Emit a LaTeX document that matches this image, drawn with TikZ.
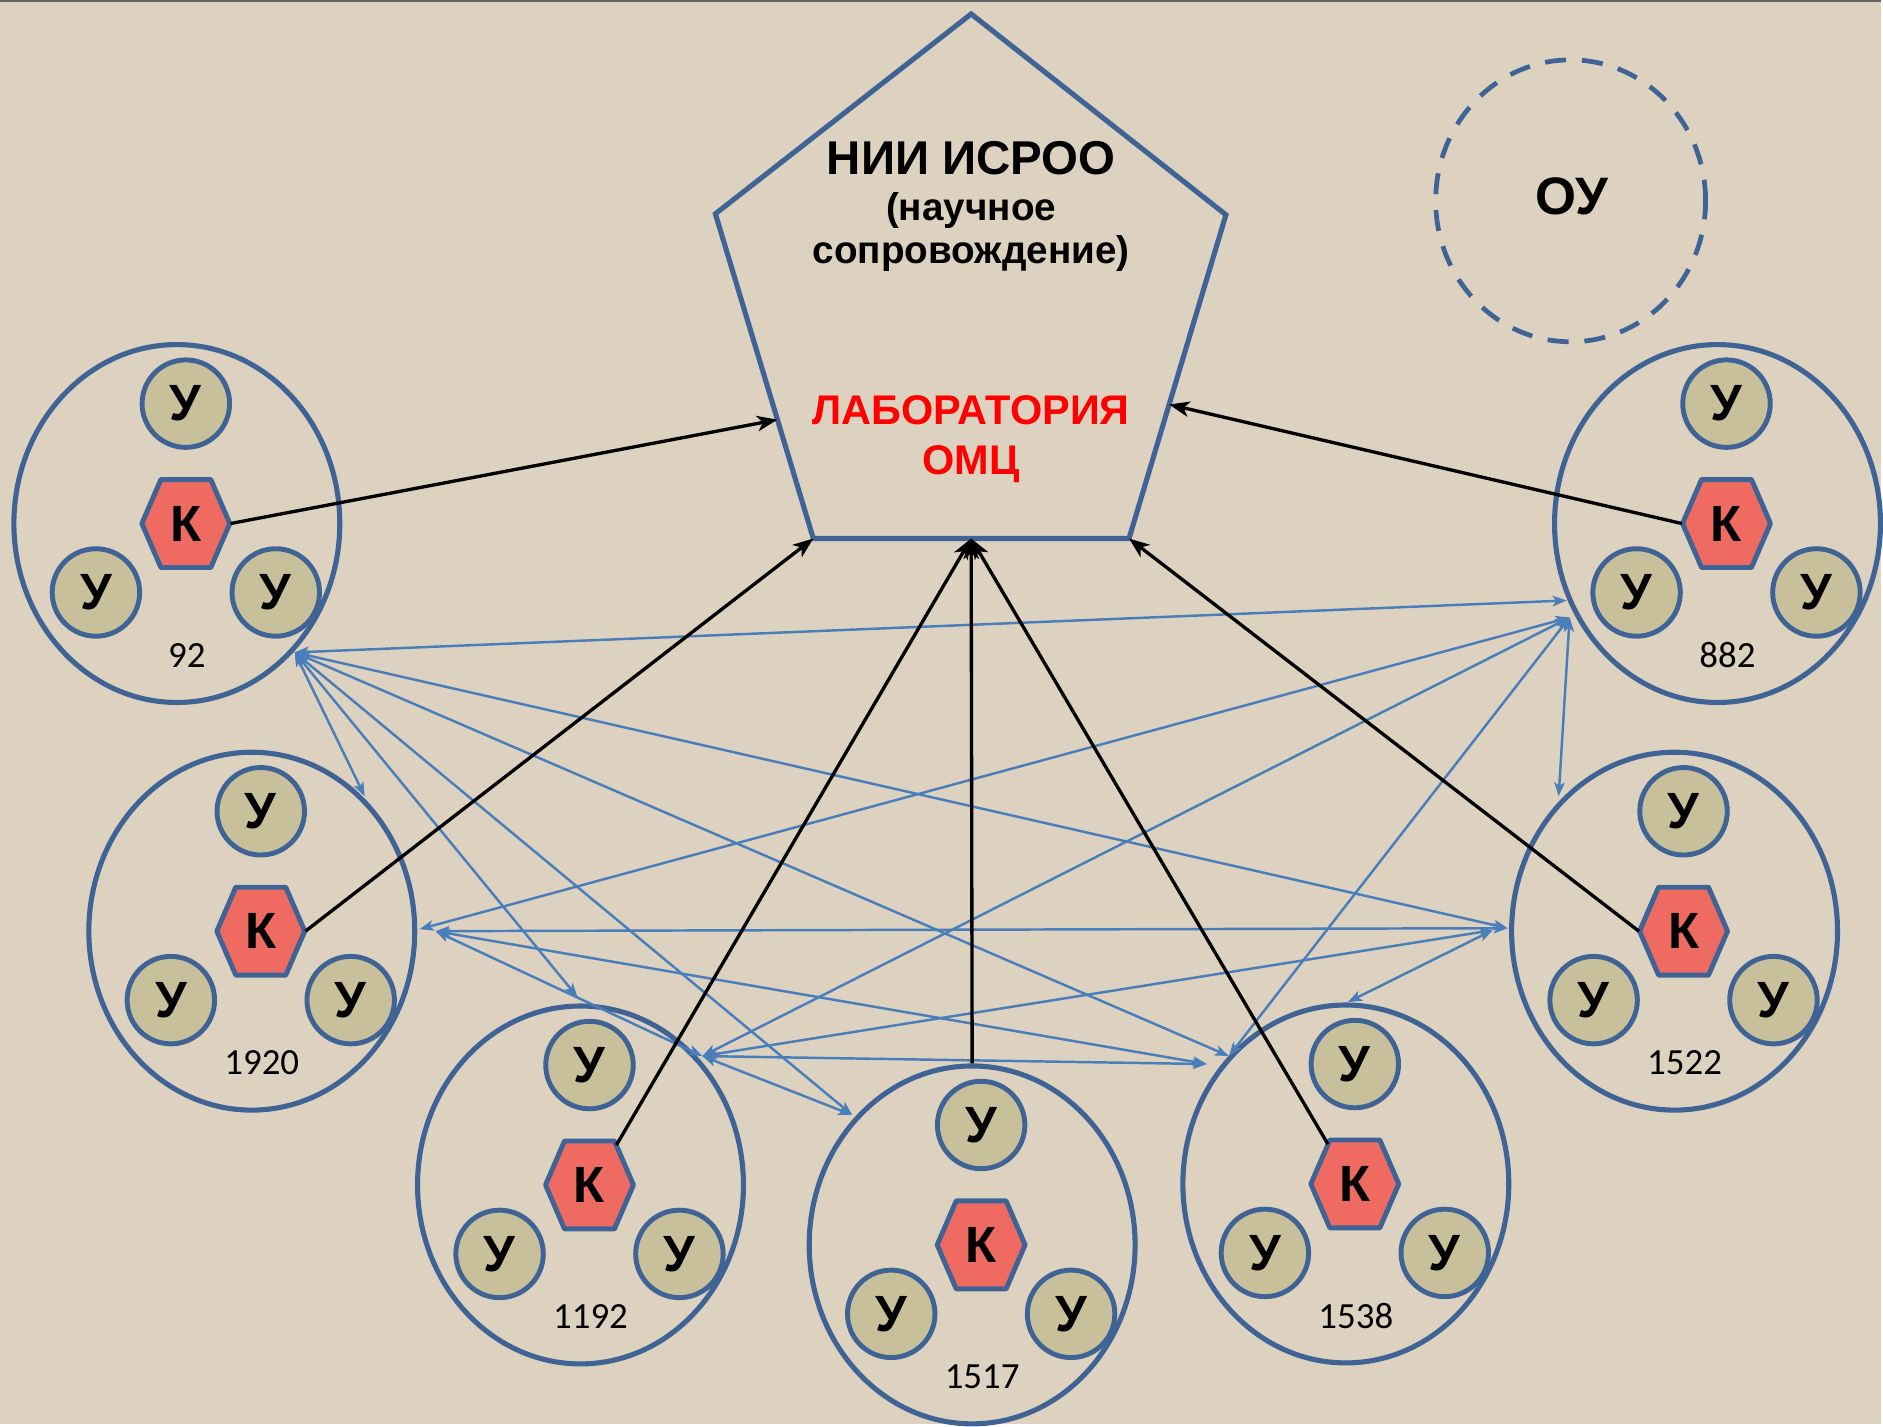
\documentclass[tikz,border=0pt]{standalone}
\usepackage{fontspec}
\setmainfont{Liberation Sans}
\newfontfamily\numfont{Carlito}
\usetikzlibrary{shapes.geometric,arrows.meta,calc}

\definecolor{bg}{HTML}{DCD2BF}
\definecolor{edge}{HTML}{3E6394}
\definecolor{ufill}{HTML}{C7C09B}
\definecolor{kfill}{HTML}{EF6A60}
\definecolor{linkblue}{HTML}{4A7EBB}

\begin{document}
\begin{tikzpicture}[x=0.01cm, y=-0.01cm,
  grp/.style={ellipse, draw=edge, line width=1.45pt, minimum width=3.26cm, minimum height=3.58cm, inner sep=0pt},
  unode/.style={circle, draw=edge, fill=ufill, line width=1.4pt, minimum size=0.875cm, inner sep=0pt, font=\bfseries\fontsize{14.5}{15}\selectfont},
  knode/.style={rectangle, minimum width=0.88cm, minimum height=0.88cm, inner sep=0pt, font=\bfseries\fontsize{14.5}{15}\selectfont},
  hexa/.style={draw=edge, fill=kfill, line width=1.4pt, line join=round},
  numlbl/.style={font=\numfont\fontsize{10.5}{12}\selectfont},
  pent/.style={draw=edge, line width=1.45pt, line join=miter},
  linkarrow/.style={draw=linkblue, line width=0.7pt, {Stealth[length=4pt,width=3pt,inset=1pt]}-{Stealth[length=4pt,width=3pt,inset=1pt]}},
  feed/.style={draw=black, line width=0.95pt, -{Stealth[length=5.8pt,width=4.4pt,inset=1.6pt]}},
  titlefont/.style={font=\bfseries\fontsize{13.5}{15}\selectfont, inner sep=0pt},
  subfont/.style={font=\bfseries\fontsize{11}{13}\selectfont, inner sep=0pt},
  labfont/.style={font=\bfseries\fontsize{11.8}{14}\selectfont, text=red, inner sep=0pt}
]
% background
\fill[bg] (0,0) rectangle (1883,1425);
\fill[black!60] (0,0) rectangle (1883,2);

% pentagon
\coordinate (pT) at (972,14);
\coordinate (pUL) at (716,214);
\coordinate (pUR) at (1227,215);
\coordinate (pBR) at (1130,539);
\coordinate (pBL) at (814,539);
\coordinate (pB) at ($(pBL)!0.5!(pBR)$);
\coordinate (pL) at ($(pUL)!0.634!(pBL)$);
\coordinate (pR) at ($(pUR)!0.586!(pBR)$);
\draw[pent] (pT) -- (pUR) -- (pBR) -- (pBL) -- (pUL) -- cycle;
\node[titlefont, anchor=base] (t1) at (972,175) {НИИ ИСРОО};
\node[subfont, anchor=base] (t2) at (972,221) {(научное};
\node[subfont, anchor=base] (t3) at (972,264) {сопровождение)};
\node[labfont, anchor=base] (t4) at (972,425) {ЛАБОРАТОРИЯ};
\node[labfont, anchor=base] (t5) at (972,475) {ОМЦ};

% OU
\node[ellipse, draw=edge, line width=1.35pt, dash pattern=on 6pt off 4.5pt, minimum width=2.7cm, minimum height=2.82cm, inner sep=0pt] (ou) at (1572,201) {};
\node[font=\bfseries\fontsize{15}{17}\selectfont, inner sep=0pt, anchor=base] (oulbl) at (1573,215) {ОУ};

% groups
\foreach \n/\cx/\cy/\lab in {a/177/524/92, b/1719/524/882, c/252/932/1920, d/1676/932/1522, e/581/1186/1192, f/973/1246/1517, g/1347/1185/1538} {
  \node[grp] (\n) at (\cx,\cy) {};
  \node[unode] (\n-u1) at ($(\n)+(9,-120)$) {У};
  \node[unode] (\n-u2) at ($(\n)+(-81,69)$) {У};
  \node[unode] (\n-u3) at ($(\n)+(99,69)$) {У};
  \draw[hexa, shift={($(\n)+(9,0)$)}] (-44,0) -- (-25,-44) -- (25,-44) -- (44,0) -- (25,44) -- (-25,44) -- cycle;
  \node[knode] (\n-k) at ($(\n)+(9,0)$) {К};
  \node[numlbl] (\n-l) at ($(\n)+(10,132)$) {\lab};
}

% hub points on the group circles
\coordinate (hA) at ($(a)+(118,129)$);
\coordinate (hBa) at ($(b)+(-151,77)$);
\coordinate (hBb) at ($(b)+(-148,94)$);
\coordinate (hCt) at ($(c)+(113,-135)$);
\coordinate (hCa) at ($(c)+(168,-2)$);
\coordinate (hCb) at ($(c)+(184,0)$);
\coordinate (hDa) at ($(d)+(-167,-3)$);
\coordinate (hDb) at ($(d)+(-182,-1)$);
\coordinate (hDt) at ($(d)+(-116,-135)$);
\coordinate (hEa) at ($(e)+(122,-129)$);
\coordinate (hEt) at ($(e)+(-3,-188)$);
\coordinate (hF) at ($(f)+(-120,-130)$);
\coordinate (hGa) at ($(g)+(-117,-128)$);
\coordinate (hGb) at ($(g)+(-139,-120)$);
\coordinate (hGt) at ($(g)+(2,-182)$);

% blue links
\foreach \s/\t in {hA/hBa, hA/hCt, hA/hDa, hA/hEt, hA/hF, hA/hGa, hBb/hCa, hBb/hDt, hBb/hEa, hBb/hGa, hCb/hDa, hCb/hEa, hCb/hGb, hDb/hEa, hDb/hGt, hEa/hF, hEa/hGb}
  \draw[linkarrow] (\s) -- (\t);

% black arrows to the laboratory
\draw[feed] (a-k.east) -- (pL);
\draw[feed] (b-k.west) -- (pR);
\draw[feed] (c-k.east) -- (pBL);
\draw[feed] (d-k.west) -- (pBR);
\draw[feed] ($(e-k)+(27,-40)$) -- (pB);
\draw[feed] (f.north) -- (pB);
\draw[feed] ($(g-k)+(-27,-40)$) -- (pB);
\end{tikzpicture}
\end{document}
